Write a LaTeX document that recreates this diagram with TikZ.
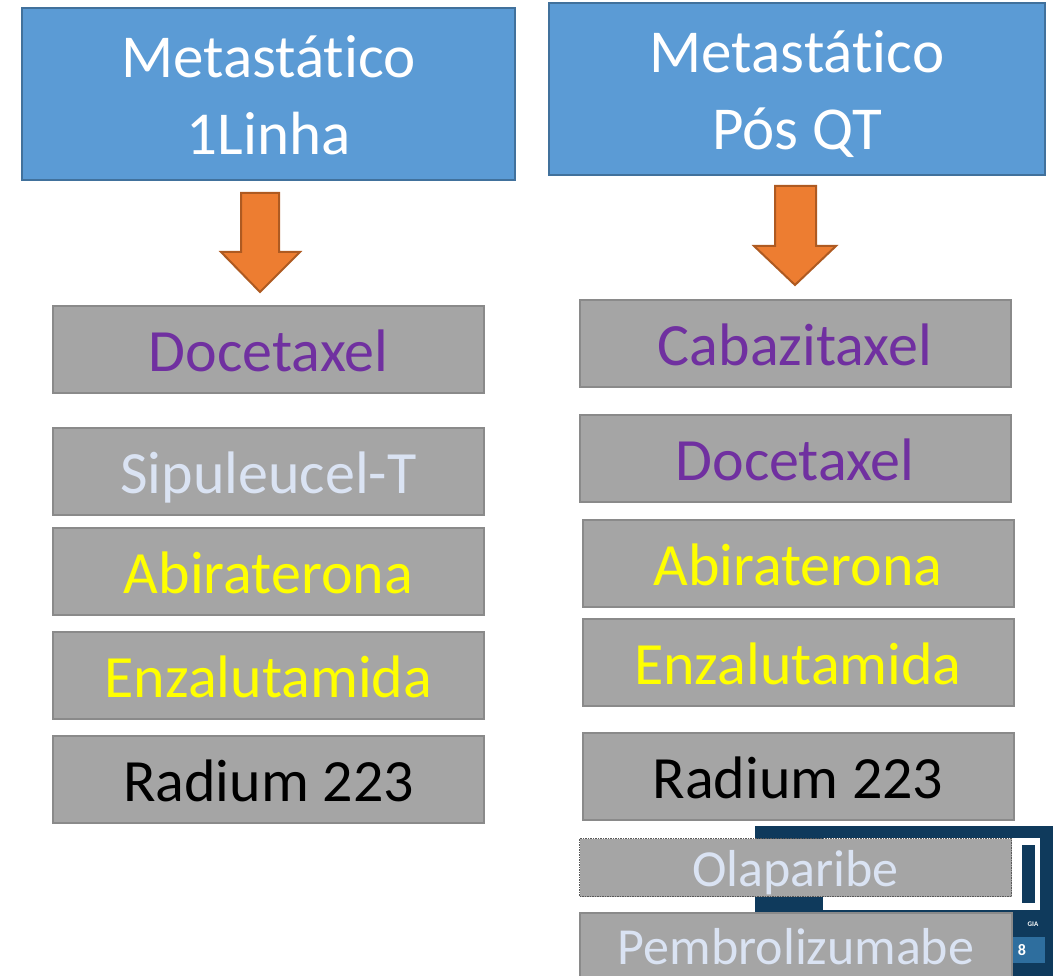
\documentclass[tikz,border=0pt]{standalone}
\usepackage{fontspec}
\setmainfont[Ligatures={NoCommon}]{Carlito}
\definecolor{bluefill}{HTML}{5B9BD5}
\definecolor{blueline}{HTML}{41719C}
\definecolor{grayfill}{HTML}{A5A5A5}
\definecolor{grayline}{HTML}{8A8A8A}
\definecolor{orangefill}{HTML}{ED7D31}
\definecolor{orangeline}{HTML}{AE5A21}
\definecolor{drugpurple}{HTML}{7030A0}
\definecolor{drugyellow}{HTML}{FFFF00}
\definecolor{druglight}{HTML}{DAE3F3}
\definecolor{logonavy}{HTML}{0F3A5C}
\definecolor{logolight}{HTML}{2E6E9E}
\newcommand{\topstrut}{\rule{0pt}{54pt}}
\newcommand{\botstrut}{\rule[-10pt]{0pt}{10pt}}
\begin{document}
\begin{tikzpicture}[x=1pt,y=-1pt,
  headbox/.style={draw=blueline,fill=bluefill,line width=2pt,inner sep=0pt,
    text=white,align=center,font=\fontsize{61}{77}\selectfont},
  drugbox/.style={draw=grayline,fill=grayfill,line width=2pt,inner sep=0pt,
    font=\fontsize{60}{72}\selectfont,text height=44pt,text depth=0pt,
    minimum width=431pt,minimum height=87pt},
  lightbox/.style={drugbox,font=\fontsize{52}{62}\selectfont,text=druglight,
    text height=38pt},
  downarrow/.style={draw=orangeline,fill=orangefill,line width=2pt,line join=miter}]
\useasboundingbox (0,0) rectangle (1053,976);
% partial logo in the background
\fill[logonavy] (755,826) rectangle (1053,976);
\fill[white] (823,838) rectangle (1040,910);
\fill[logonavy] (1022,845) rectangle (1035,903);
\fill[logolight] (1013,937) rectangle (1045,963);
\node[text=white,font=\bfseries\fontsize{16}{18}\selectfont] (logo8) at (1022,950) {8};
\node[text=white,font=\bfseries\fontsize{7}{8}\selectfont] (logogia) at (1033,924) {GIA};
% headers
\node[headbox,minimum width=493pt,minimum height=172pt] (h1) at (268.5,94) {\topstrut Metastático\\1Linha\botstrut};
\node[headbox,minimum width=496pt,minimum height=172pt] (h2) at (797,89) {\topstrut Metastático\\Pós QT\botstrut};
% arrows
\draw[downarrow] (241,193) -- (279,193) -- (279,252) -- (300,252) -- (260,292) -- (221,252) -- (241,252) -- cycle;
\draw[downarrow] (775,186) -- (816,186) -- (816,246) -- (836,246) -- (795,285) -- (754,246) -- (775,246) -- cycle;
% left column
\node[drugbox,text=drugpurple] (l1) at (268.5,349.5) {Docetaxel};
\node[drugbox,text=druglight] (l2) at (268.5,471.5) {Sipuleucel-T};
\node[drugbox,text=drugyellow] (l3) at (268.5,571.5) {Abiraterona};
\node[drugbox,text=drugyellow] (l4) at (268.5,675.5) {Enzalutamida};
\node[drugbox,text=black] (l5) at (268.5,779.5) {Radium 223};
% right column
\node[drugbox,text=drugpurple] (r1) at (795,343.5) {Cabazitaxel};
\node[drugbox,text=drugpurple] (r2) at (795,458.5) {Docetaxel};
\node[drugbox,text=drugyellow] (r3) at (798,563.5) {Abiraterona};
\node[drugbox,text=drugyellow] (r4) at (798,662.5) {Enzalutamida};
\node[drugbox,text=black] (r5) at (798,776.5) {Radium 223};
\node[lightbox,draw=gray!70!black,line width=1.5pt,densely dotted,minimum width=432pt,minimum height=58pt] (r6) at (795.5,867.5) {Olaparibe};
\node[lightbox,minimum width=432pt,minimum height=64pt] (r7) at (796,945) {Pembrolizumabe};
\end{tikzpicture}
\end{document}
